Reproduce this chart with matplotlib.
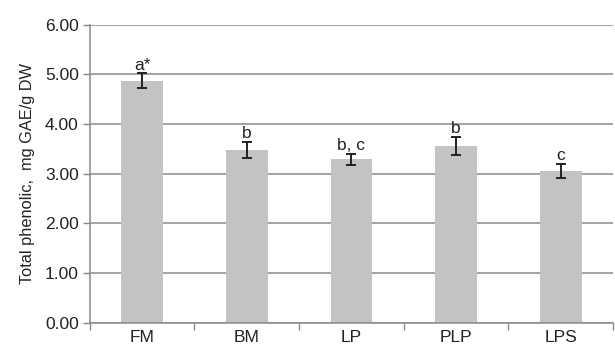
import numpy as np
import matplotlib.pyplot as plt

plt.rcParams['font.family'] = ['Liberation Sans', 'DejaVu Sans']

categories = ['FM', 'BM', 'LP', 'PLP', 'LPS']
values = [4.87, 3.48, 3.29, 3.56, 3.05]
errors = [0.15, 0.16, 0.11, 0.19, 0.14]
letters = ['a*', 'b', 'b, c', 'b', 'c']

fig = plt.figure(figsize=(6.15, 3.5), dpi=100)
ax = fig.add_axes([0.146, 0.078, 0.851, 0.851])

x = np.arange(len(categories))
ax.bar(x, values, width=0.4, color='#c2c3c5', zorder=2)
ax.errorbar(x, values, yerr=errors, fmt='none', ecolor='#222222',
            elinewidth=1.4, capsize=3.5, capthick=1.4, zorder=3)

for xi, v, e, lab in zip(x, values, errors, letters):
    ax.text(xi, v + e + 0.02, lab, ha='center', va='bottom', fontsize=12.5, color='#222222')

ax.set_xlim(-0.5, len(categories) - 0.5)
ax.set_ylim(0, 6)
ax.set_yticks(np.arange(0, 6.01, 1))
ax.set_yticklabels([f'{t:.2f}' for t in np.arange(0, 6.01, 1)], fontsize=12.5, color='#222222')
ax.set_xticks(x)
ax.set_xticklabels(categories, fontsize=12.5, color='#222222')
ax.set_xticks(np.arange(-0.5, len(categories)), minor=True)
ax.tick_params(axis='x', which='major', length=0, pad=5)
ax.tick_params(axis='x', which='minor', length=5, color='#888888', width=1)
ax.tick_params(axis='y', length=5, color='#888888', width=1, pad=3)

ax.grid(axis='y', color='#8a8a8a', linewidth=1.1, zorder=0)
ax.set_axisbelow(True)
for s in ['top', 'right']:
    ax.spines[s].set_visible(False)
for s in ['left', 'bottom']:
    ax.spines[s].set_color('#888888')
    ax.spines[s].set_linewidth(1.1)

ax.set_ylabel('Total phenolic,  mg GAE/g DW', fontsize=11.8, color='#222222', labelpad=7)

fig.savefig('out.png', dpi=100, facecolor='white')
